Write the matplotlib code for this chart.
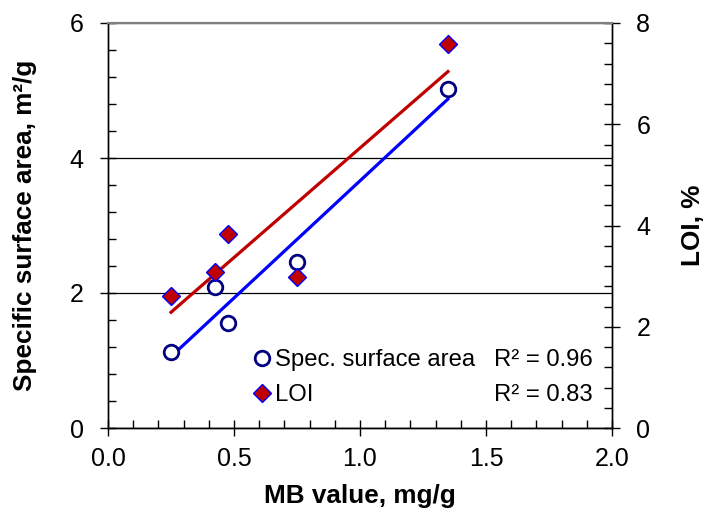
import numpy as np
import matplotlib
matplotlib.use("Agg")
import matplotlib.pyplot as plt
from matplotlib.ticker import MultipleLocator, FormatStrFormatter

plt.rcParams['font.family'] = ['Liberation Sans', 'DejaVu Sans']

mb = [0.25, 0.426, 0.476, 0.751, 1.349]
ssa = [1.12, 2.09, 1.55, 2.46, 5.02]
loi = [2.61, 3.08, 3.83, 2.98, 7.59]
r2_labels = ["R² = 0.96", "R² = 0.83"]
series_labels = ["Spec. surface area", "LOI"]

fs = 18
fs_lab = 18.8
fs_leg = 17.2
fig = plt.figure(figsize=(7.05, 5.13), dpi=100)
L, R, T, B = 108, 612, 23, 428
ax = fig.add_axes([L/705, 1-B/513, (R-L)/705, (B-T)/513])
ax2 = ax.twinx()

def fx(px):
    return (px - L) / (R - L)

def fy(py):
    return (B - py) / (B - T)

mb_a = np.array(mb)
c1 = np.polyfit(mb_a, ssa, 1)
c2 = np.polyfit(mb_a, loi, 1)
xl = np.array([min(mb), max(mb)])

ax.plot(xl, np.polyval(c1, xl), color='#0000FF', lw=2.3, zorder=2)
h1, = ax.plot(mb, ssa, 'o', ms=10.5, mfc='white', mec='#000080', mew=2.0,
              ls='none', zorder=3)
ax2.plot(xl, np.polyval(c2, xl), color='#C00000', lw=2.3, zorder=2)
h2, = ax2.plot(mb, loi, 'D', ms=9, mfc='#C00000', mec='#0000FF', mew=1.0,
               ls='none', zorder=3)

ax.set_xlim(0, 2.0)
ax.set_ylim(0, 6)
ax2.set_ylim(0, 8)
ax.xaxis.set_major_locator(MultipleLocator(0.5))
ax.xaxis.set_minor_locator(MultipleLocator(0.1))
ax.xaxis.set_major_formatter(FormatStrFormatter('%.1f'))
ax.yaxis.set_major_locator(MultipleLocator(2))
ax.yaxis.set_minor_locator(MultipleLocator(0.4))
ax2.yaxis.set_major_locator(MultipleLocator(2))
ax2.yaxis.set_minor_locator(MultipleLocator(0.4))

ax.yaxis.grid(True, which='major', color='black', lw=0.9)
ax.set_axisbelow(True)

for a in (ax, ax2):
    a.tick_params(which='major', direction='inout', length=11, width=1.0,
                  labelsize=fs, colors='black')
    a.tick_params(which='minor', direction='in', length=6, width=1.0)
ax.tick_params(axis='x', pad=8)
ax.tick_params(axis='y', pad=12)
ax2.tick_params(axis='y', pad=12)

for a in (ax, ax2):
    a.spines['top'].set_color('#808080')
    a.spines['top'].set_linewidth(1.5)
    for s in ('left', 'right', 'bottom'):
        a.spines[s].set_linewidth(1.0)

ax.set_xlabel("MB value, mg/g", fontsize=fs_lab, fontweight='bold')
ax.set_ylabel("Specific surface area, m²/g", fontsize=fs_lab, fontweight='bold')
ax2.set_ylabel("LOI, %", fontsize=fs_lab, fontweight='bold')
ax.xaxis.set_label_coords(0.5, fy(484))
ax.yaxis.set_label_coords(fx(37), 0.5)
ax2.yaxis.set_label_coords(fx(681), 0.5)

leg = ax2.legend([h1, h2], series_labels, loc='center left',
                 bbox_to_anchor=(fx(255), fy(377.5)), frameon=False, fontsize=fs_leg,
                 handlelength=0.62, handletextpad=0.22, labelspacing=0.55,
                 borderaxespad=0, borderpad=0)
ax2.text(fx(593), fy(360), r2_labels[0], transform=ax2.transAxes, ha='right',
         va='center', fontsize=fs_leg)
ax2.text(fx(593), fy(395), r2_labels[1], transform=ax2.transAxes, ha='right',
         va='center', fontsize=fs_leg)

fig.savefig("out.png", dpi=100)
